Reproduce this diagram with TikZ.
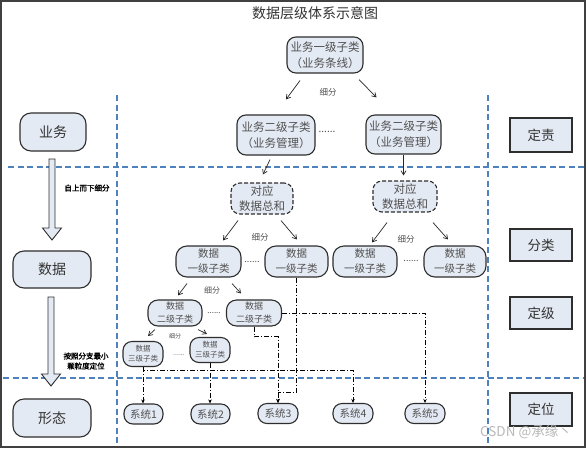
\documentclass[tikz,border=0pt]{standalone}
\usepackage{fontspec}
\setmainfont{Noto Sans CJK SC}
\newfontfamily\boldcjk[FakeBold=2]{Noto Sans CJK SC}
\usetikzlibrary{arrows.meta,calc}
\definecolor{boxfill}{HTML}{E4EAF4}
\definecolor{boxline}{HTML}{2E2E2E}
\definecolor{txt}{HTML}{505050}
\definecolor{guide}{HTML}{4F81BD}
\tikzset{
  base/.style={draw=boxline, line width=1.1pt, fill=boxfill, text=txt, align=center, inner sep=0pt},
  rbox/.style={base, rounded corners=9pt},
  dbox/.style={base, rounded corners=9pt, dash pattern=on 4pt off 2pt},
  sidebox/.style={base, rounded corners=11pt, minimum width=78pt, minimum height=38pt, text=black!80, font=\fontsize{14}{16}\selectfont},
  sqbox/.style={base, minimum width=62pt, minimum height=33pt, text=black!80, font=\fontsize{13.5}{16}\selectfont},
  bizbox/.style={rbox, font=\fontsize{11.5}{16}\selectfont},
  d0box/.style={dbox, minimum width=63pt, minimum height=31pt, font=\fontsize{11.5}{15}\selectfont},
  d1box/.style={rbox, rounded corners=11pt, minimum height=31pt, font=\fontsize{10.5}{15}\selectfont},
  d2box/.style={rbox, rounded corners=10pt, minimum width=55pt, minimum height=26pt, font=\fontsize{9}{13}\selectfont},
  d3box/.style={rbox, rounded corners=9pt, minimum width=40pt, minimum height=25pt, font=\fontsize{7.5}{10}\selectfont},
  sysbox/.style={rbox, rounded corners=9pt, minimum width=40pt, minimum height=20pt, font=\fontsize{10.5}{12}\selectfont},
  dots/.style={inner sep=0pt, text=txt},
  sublabel/.style={inner sep=0pt, text=txt},
  sarrow/.style={draw=black!85, line width=0.7pt, -{Straight Barb[length=4pt,width=5pt]}},
  conn/.style={draw=black, line width=0.8pt, dash pattern=on 5pt off 2pt on 1pt off 2pt, -{Stealth[length=4pt,width=3.5pt]}},
  guideline/.style={draw=guide, line width=1.1pt, dash pattern=on 6pt off 3.5pt},
  blockarrow/.style={draw=boxline, line width=0.9pt, fill=boxfill},
  sidelabel/.style={inner sep=0pt, align=center, text=black, font=\boldcjk\fontsize{7.5}{10}\selectfont}
}
\begin{document}
\begin{tikzpicture}[x=1pt,y=-1pt]
\useasboundingbox (0,0) rectangle (586,448);
\fill[white] (0,0) rectangle (586,448);

% guide lines
\draw[guideline] (8,167) -- (584,167);
\draw[guideline] (3,378) -- (584,378);
\draw[guideline] (117,95) -- (117,446);
\draw[guideline] (488,95) -- (488,446);

% title
\node[inner sep=0pt, text=black!80, font=\fontsize{14}{16}\selectfont] (title) at (315,13) {数据层级体系示意图};

% left column
\node[sidebox, minimum width=66pt] (yw) at (53,132) {业务};
\node[sidebox, minimum height=37pt] (sj) at (52,269.5) {数据};
\node[sidebox] (xt) at (52,418) {形态};
\draw[blockarrow] (49,159) -- (55,159) -- (55,228) -- (61.5,228) -- (52,240) -- (42.5,228) -- (49,228) -- cycle;
\draw[blockarrow] (48,297) -- (54,297) -- (54,374) -- (60.5,374) -- (51,386) -- (41.5,374) -- (48,374) -- cycle;
\node[sidelabel] (lab1) at (87,188) {自上而下细分};
\node[sidelabel] (lab2) at (86,361) {按照分支最小\\颗粒度定位};

% right column
\node[sqbox, minimum height=34pt] (dz) at (541,135) {定责};
\node[sqbox, minimum height=32pt] (fl) at (541,245) {分类};
\node[sqbox, minimum height=32pt] (dj) at (541,313) {定级};
\node[sqbox] (dw) at (541,409.5) {定位};

% business tree
\node[bizbox, minimum width=76pt, minimum height=36pt] (top) at (325,55) {业务一级子类\\（业务条线）};
\node[bizbox, minimum width=78pt, minimum height=40pt] (b2l) at (276,135) {业务二级子类\\（业务管理）};
\node[bizbox, minimum width=75pt, minimum height=39pt] (b2r) at (403.5,134.5) {业务二级子类\\（业务管理）};
\node[dots, font=\fontsize{10}{10}\selectfont] (bdots) at (327,132) {......};
\node[sublabel, font=\fontsize{8.5}{10}\selectfont] (xf1) at (328,92) {细分};
\draw[sarrow] ([shift={(-25,7)}]top.south) -- ([shift={(10,-15)}]b2l.north);
\draw[sarrow] ([shift={(34,6)}]top.south) -- ([shift={(-27,-17)}]b2r.north);

% data tree
\node[d0box, minimum width=62pt] (d0l) at (262,198.5) {对应\\数据总和};
\node[d0box, minimum width=64pt] (d0r) at (405,196.5) {对应\\数据总和};
\draw[sarrow] ([shift={(-6,4)}]b2l.south) -- ([shift={(1,-8)}]d0l.north);
\draw[sarrow, shorten >=5pt] (b2r.south) -- (b2r.south |- d0r.north);

\node[d1box, minimum width=65pt] (d1a) at (208.5,261.5) {数据\\一级子类};
\node[d1box, minimum width=63pt] (d1b) at (296.5,261.5) {数据\\一级子类};
\node[d1box, minimum width=64pt] (d1c) at (365,261.5) {数据\\一级子类};
\node[d1box, minimum width=62pt] (d1d) at (455,261.5) {数据\\一级子类};
\node[dots, font=\fontsize{9}{10}\selectfont] (ddots1) at (252,262) {......};
\node[dots, font=\fontsize{9}{10}\selectfont] (ddots2) at (411,261) {......};
\node[sublabel, font=\fontsize{8.5}{10}\selectfont] (xf2) at (260,237) {细分};
\node[sublabel, font=\fontsize{8.5}{10}\selectfont] (xf3) at (406,239) {细分};
\draw[sarrow] ([shift={(-24,6)}]d0l.south) -- ([shift={(14.5,-5)}]d1a.north);
\draw[sarrow] ([shift={(19,6)}]d0l.south) -- ([shift={(0.5,-6)}]d1b.north);
\draw[sarrow] ([shift={(-18,10)}]d0r.south) -- ([shift={(7,-3)}]d1c.north);
\draw[sarrow] ([shift={(28,10)}]d0r.south) -- ([shift={(-7,-6)}]d1d.north);

\node[d2box, minimum width=54pt] (d2a) at (175,313) {数据\\二级子类};
\node[d2box] (d2b) at (254,313) {数据\\二级子类};
\node[dots, font=\fontsize{8}{10}\selectfont] (ddots3) at (214,313) {......};
\node[sublabel, font=\fontsize{8}{10}\selectfont] (xf4) at (212,290) {细分};
\draw[sarrow] ([shift={(-21.5,6)}]d1a.south) -- ([shift={(3,-4)}]d2a.north);
\draw[sarrow] ([shift={(23.5,6)}]d1a.south) -- ([shift={(-13,-6)}]d2b.north);

\node[d3box] (d3a) at (143,354) {数据\\三级子类};
\node[d3box] (d3b) at (210,350) {数据\\三级子类};
\node[dots, font=\fontsize{7}{10}\selectfont] (ddots4) at (179,355) {......};
\node[sublabel, font=\fontsize{6}{8}\selectfont] (xf5) at (175,336) {细分};
\draw[sarrow] ([shift={(-20,3)}]d2a.south) -- ([shift={(5,-5)}]d3a.north);
\draw[sarrow] ([shift={(23,3)}]d2a.south) -- ([shift={(-3,-3)}]d3b.north);

% systems
\node[sysbox, minimum width=39pt] (s1) at (143.5,414) {系统1};
\node[sysbox, minimum width=39pt] (s2) at (210.5,414) {系统2};
\node[sysbox] (s3) at (278,413.5) {系统3};
\node[sysbox] (s4) at (353,413.5) {系统4};
\node[sysbox] (s5) at (425,413.5) {系统5};

% dash-dot connectors
\draw[conn] (d3a.south) -- (d3a.south |- s1.north);
\draw[conn] (d3b.south) -- (d3b.south |- s2.north);
\draw[conn] (d3a.south) -- ++(0,3) -| (s4.north);
\draw[conn] (d2b.south) -- ++(0,10) -| (s3.north);
\draw[conn] (d2b.east) -| (s5.north);
\draw[conn] (d1b.south) |- ([yshift=11pt]s3.north) -- (s3.north);

% frame
\draw[draw=black!75, line width=1.5pt] (1,1) rectangle (585,447);

% watermark
\node[inner sep=0pt, text=gray!55, font=\fontsize{13.5}{15}\selectfont] (wm) at (526,432) {CSDN @承缘丶};
\end{tikzpicture}
\end{document}
